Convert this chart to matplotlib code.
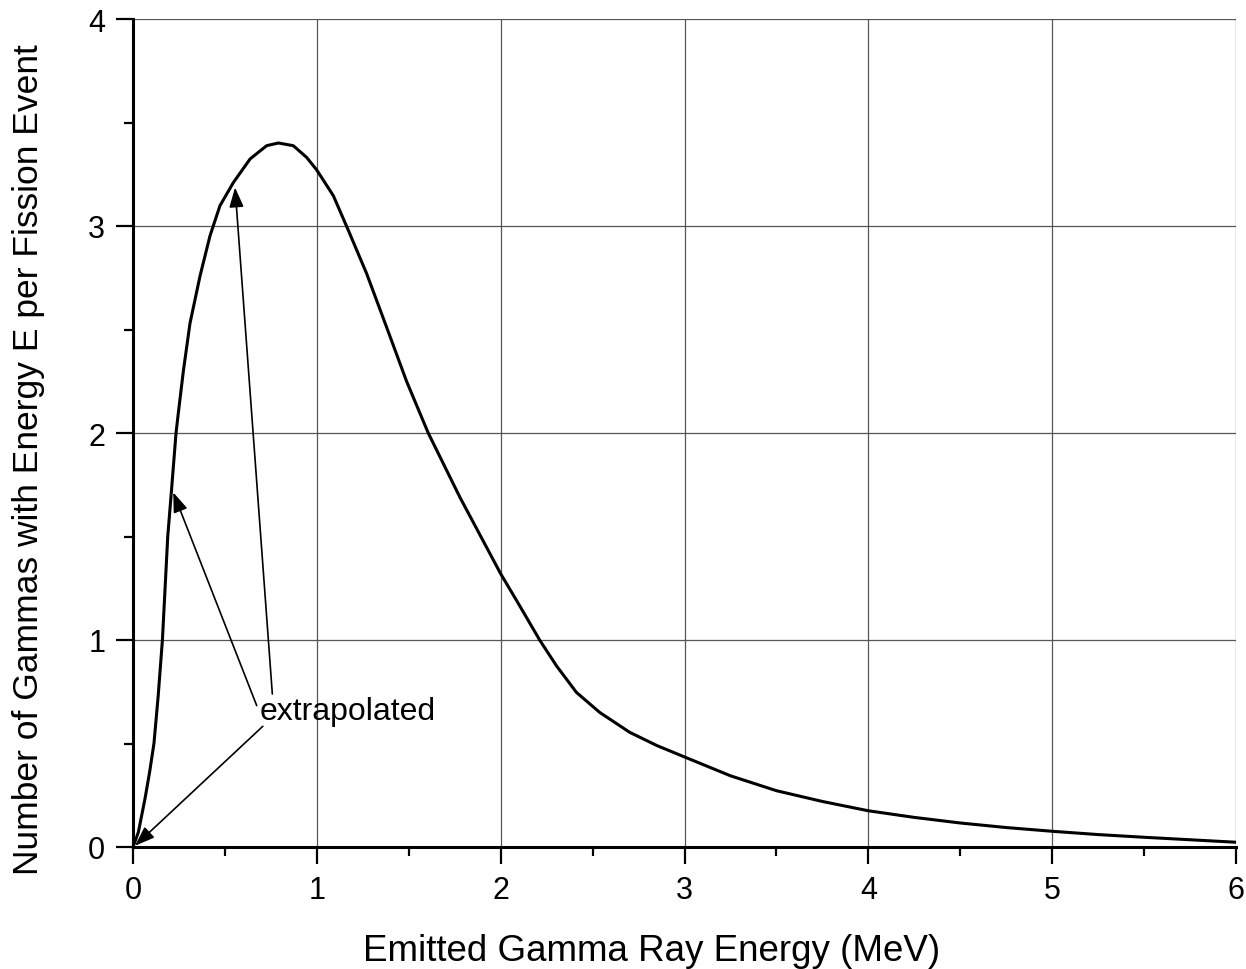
import matplotlib
matplotlib.use("Agg")
from matplotlib import pyplot as plt
from matplotlib.ticker import MultipleLocator

plt.rcParams["font.family"] = ["Liberation Sans", "DejaVu Sans"]

# values
energy_mev = [0, 0.029, 0.065, 0.09, 0.114, 0.137, 0.16, 0.189, 0.21, 0.234,
              0.247, 0.274, 0.31, 0.365, 0.419, 0.473, 0.546, 0.637, 0.727,
              0.791, 0.872, 0.945, 1.0, 1.09, 1.171, 1.271, 1.38, 1.488, 1.606,
              1.778, 1.958, 2.0, 2.103, 2.212, 2.303, 2.412, 2.539, 2.702, 2.85,
              3.0, 3.25, 3.5, 3.75, 4.0, 4.25, 4.5, 4.75, 5.0, 5.25, 5.5, 5.75,
              6.0]
gammas_per_fission = [0, 0.071, 0.232, 0.36, 0.5, 0.73, 1.0, 1.5, 1.73, 2.0,
                      2.1, 2.3, 2.53, 2.76, 2.953, 3.098, 3.21, 3.324, 3.388,
                      3.401, 3.388, 3.331, 3.27, 3.146, 2.98, 2.77, 2.51, 2.25,
                      2.0, 1.69, 1.39, 1.32, 1.166, 1.0, 0.876, 0.747, 0.65,
                      0.554, 0.49, 0.435, 0.344, 0.272, 0.22, 0.175, 0.143,
                      0.116, 0.094, 0.076, 0.06, 0.047, 0.035, 0.023]

# annotation: label anchor, and (tail, head) of each arrow
label_text = "extrapolated"
label_pos = (0.69, 0.658)
arrow_tails = [(0.758, 0.739), (0.673, 0.683), (0.706, 0.583)]
arrow_heads = [(0.555, 3.186), (0.219, 1.713), (0.011, 0.006)]

x_ticks = [0, 1, 2, 3, 4, 5, 6]
y_ticks = [0, 1, 2, 3, 4]

fig = plt.figure(figsize=(12.46, 9.70), dpi=100)
ax = fig.add_axes([133 / 1246, 122 / 970, 1103 / 1246, 828 / 970])

ax.plot(energy_mev, gammas_per_fission, color="black", lw=2.2,
        solid_joinstyle="round", zorder=3)

ax.set_xlim(0, 6)
ax.set_ylim(0, 4)
ax.set_xticks(x_ticks)
ax.set_yticks(y_ticks)
ax.xaxis.set_minor_locator(MultipleLocator(0.5))
ax.yaxis.set_minor_locator(MultipleLocator(0.5))

ax.grid(True, which="major", color="#555555", lw=0.9)
ax.set_axisbelow(True)
for side in ("top", "right"):
    ax.spines[side].set_visible(False)
for side in ("left", "bottom"):
    ax.spines[side].set_linewidth(2.2)

ax.tick_params(which="major", direction="out", length=12, width=1.6,
               labelsize=22, pad=8)
ax.tick_params(which="minor", direction="out", length=6.5, width=1.6)

ax.text(*label_pos, label_text, fontsize=23, ha="left", va="center", zorder=4)
for tail, head in zip(arrow_tails, arrow_heads):
    ax.annotate("", xy=head, xytext=tail,
                arrowprops=dict(arrowstyle="-|>,head_length=0.6,head_width=0.22",
                                mutation_scale=20, color="black", lw=1.2,
                                shrinkA=0, shrinkB=0),
                zorder=4)

fig.text(652 / 1246, 1 - 952 / 970, "Emitted Gamma Ray Energy (MeV)",
         fontsize=26.5, ha="center", va="center")
fig.text(29 / 1246, 1 - 460 / 970,
         "Number of Gammas with Energy E per Fission Event",
         fontsize=25.5, ha="center", va="center", rotation=90)

fig.savefig("out.png", dpi=100)
plt.close(fig)
